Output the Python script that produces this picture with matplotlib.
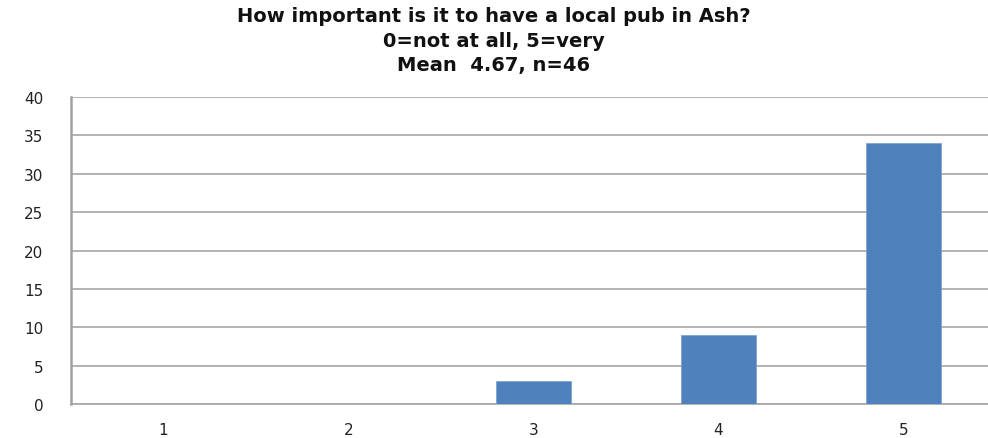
import matplotlib
matplotlib.use("Agg")
import matplotlib.pyplot as plt

# данные опроса
categories = ["1", "2", "3", "4", "5"]
counts = [0, 0, 3, 9, 34]
y_ticks = [0, 5, 10, 15, 20, 25, 30, 35, 40]
title_lines = [
    "How important is it to have a local pub in Ash?",
    "0=not at all, 5=very",
    "Mean  4.67, n=46",
]

fig = plt.figure(figsize=(9.88, 4.39), dpi=100)
ax = fig.add_axes([71 / 988, 34 / 439, 925 / 988, 307 / 439])

x = list(range(1, len(categories) + 1))
ax.bar(x, counts, width=0.405, color="#4F81BD", edgecolor="#7FA3D0",
       linewidth=0.6, zorder=3)

ax.set_xlim(0.5, 5.5)
ax.set_ylim(0, 40)
ax.set_xticks(x)
ax.set_xticklabels(categories)
ax.set_yticks(y_ticks)

ax.grid(axis="y", color="#a6a6a6", linewidth=1.2, zorder=0)
for side in ["top", "right"]:
    ax.spines[side].set_visible(False)
ax.spines["left"].set_color("#a0a0a0")
ax.spines["left"].set_linewidth(1.8)
ax.spines["bottom"].set_color("#a6a6a6")
ax.spines["bottom"].set_linewidth(1.2)

ax.tick_params(axis="both", length=0, labelsize=11, colors="#222222")
ax.tick_params(axis="y", pad=20)
ax.tick_params(axis="x", pad=13)

# заголовок из трех строк
for i, line in enumerate(title_lines):
    fig.text(0.5, 1 - (17 + 24.5 * i) / 439, line, ha="center", va="center",
             fontsize=14, fontweight="bold", color="#111111")

fig.savefig("out.png", dpi=100)
